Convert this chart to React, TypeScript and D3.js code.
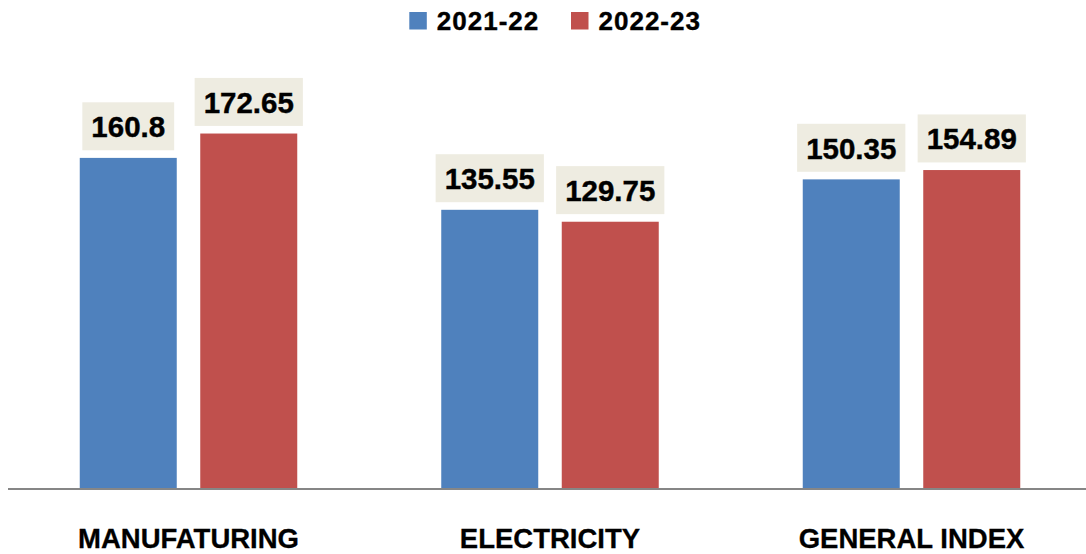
import React, { useEffect, useRef } from "react";
import * as d3 from "d3";

const categories = ["MANUFATURING", "ELECTRICITY", "GENERAL INDEX"];
const seriesNames = ["2021-22", "2022-23"];
const values2021 = [160.8, 135.55, 150.35];
const values2022 = [172.65, 129.75, 154.89];
const seriesColors = ["#4F81BD", "#C0504D"];

const W = 1086;
const H = 554;

export default function App() {
  const ref = useRef<SVGSVGElement | null>(null);

  useEffect(() => {
    const svg = d3.select(ref.current);
    svg.selectAll("*").remove();
    const font = "'Liberation Sans', Arial, sans-serif";
    const baseline = 488.5;

    const x0 = d3.scaleBand<string>().domain(categories).range([7.75, 1092.25]).paddingInner(0).paddingOuter(0);
    const x1 = d3
      .scaleBand<string>()
      .domain(seriesNames)
      .range([0, x0.bandwidth()])
      .paddingInner(0.195)
      .paddingOuter(0.5975);
    const y = d3.scaleLinear().domain([0, 200]).range([baseline, baseline - 411.2]);

    const data = categories.map((c, i) => ({
      cat: c,
      vals: [values2021[i], values2022[i]],
    }));

    const groups = svg
      .selectAll("g.grp")
      .data(data)
      .enter()
      .append("g")
      .attr("class", "grp")
      .attr("transform", (d) => `translate(${x0(d.cat)},0)`);

    groups.each(function (d) {
      const g = d3.select(this);
      d.vals.forEach((v, si) => {
        const s = seriesNames[si];
        const bx = x1(s)!;
        const bw = x1.bandwidth();
        const top = y(v);
        g.append("rect")
          .attr("x", bx)
          .attr("y", top)
          .attr("width", bw)
          .attr("height", y(0) - top)
          .attr("fill", seriesColors[si]);
        const cx = bx + bw / 2;
        const boxBottom = top - 7.6;
        const boxH = 48;
        const rect = g.append("rect").attr("fill", "#EEECE1");
        const t = g
          .append("text")
          .attr("x", cx)
          .attr("y", boxBottom - boxH / 2)
          .attr("dy", "0.37em")
          .attr("text-anchor", "middle")
          .attr("font-family", font)
          .attr("font-weight", "bold")
          .attr("font-size", 29.5)
          .attr("fill", "#000")
          .attr("stroke", "#000")
          .attr("stroke-width", 0.4)
          .text(String(v));
        const tw = (t.node() as SVGTextElement).getComputedTextLength();
        rect
          .attr("x", cx - tw / 2 - 9)
          .attr("y", boxBottom - boxH)
          .attr("width", tw + 18)
          .attr("height", boxH);
      });
    });

    // axis line
    svg
      .append("line")
      .attr("x1", 8)
      .attr("x2", W)
      .attr("y1", 489)
      .attr("y2", 489)
      .attr("stroke", "#868686")
      .attr("stroke-width", 2);

    // category labels
    svg
      .selectAll("text.cat")
      .data(categories)
      .enter()
      .append("text")
      .attr("class", "cat")
      .attr("x", (c) => x0(c)! + x0.bandwidth() / 2)
      .attr("y", 548)
      .attr("text-anchor", "middle")
      .attr("font-family", font)
      .attr("font-weight", "bold")
      .attr("font-size", 27.5)
      .attr("fill", "#000")
      .attr("stroke", "#000")
      .attr("stroke-width", 0.3)
      .text((c) => c);

    // legend
    const legendX = [409.3, 571];
    seriesNames.forEach((s, i) => {
      svg
        .append("rect")
        .attr("x", legendX[i])
        .attr("y", 12)
        .attr("width", 17.5)
        .attr("height", 17.5)
        .attr("fill", seriesColors[i]);
      svg
        .append("text")
        .attr("x", legendX[i] + 27.5)
        .attr("y", 29.5)
        .attr("font-family", font)
        .attr("font-weight", "bold")
        .attr("font-size", 26)
        .attr("letter-spacing", 1)
        .attr("fill", "#000")
        .attr("stroke", "#000")
        .attr("stroke-width", 0.4)
        .text(s);
    });
  }, []);

  return (
    <svg
      ref={ref}
      width={W}
      height={H}
      style={{ position: "absolute", left: 0, top: 0, background: "#fff" }}
    />
  );
}
